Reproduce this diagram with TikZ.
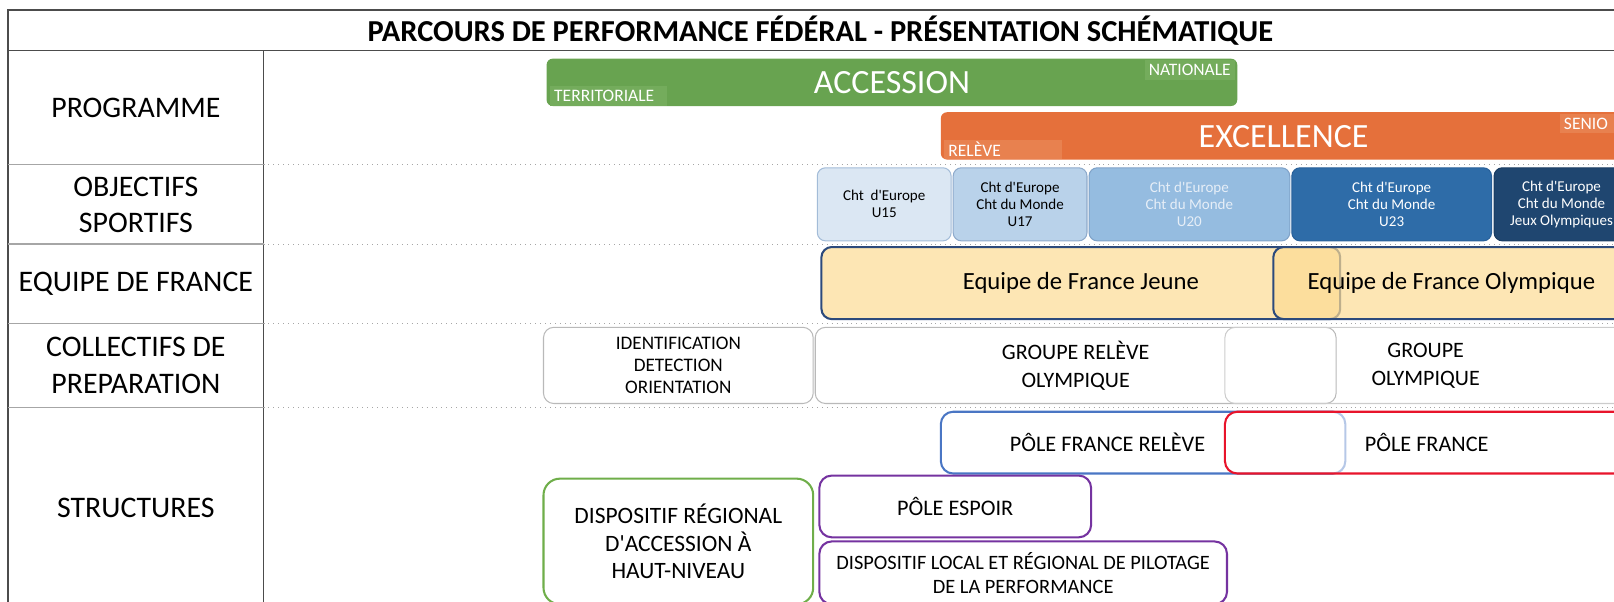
\documentclass[tikz,border=0pt]{standalone}
\usepackage{fontspec}
\setmainfont{Carlito}[Ligatures=TeXOff]
\usepackage{tikz}
\usepackage{xcolor}

\definecolor{vertAcc}{HTML}{68A350}
\definecolor{vertClair}{HTML}{74AC5C}
\definecolor{orangeExc}{HTML}{E5703B}
\definecolor{orangeClair}{HTML}{E8814F}
\definecolor{bleuA}{HTML}{DBE7F3}
\definecolor{bleuAb}{HTML}{A3BCD8}
\definecolor{bleuB}{HTML}{B9D2EA}
\definecolor{bleuBb}{HTML}{8EAACB}
\definecolor{bleuC}{HTML}{95BCE0}
\definecolor{bleuCb}{HTML}{7FA2C8}
\definecolor{bleuCt}{HTML}{E6EEF7}
\definecolor{bleuD}{HTML}{2E6CA8}
\definecolor{bleuDb}{HTML}{28609A}
\definecolor{bleuE}{HTML}{1F4670}
\definecolor{bleuEb}{HTML}{1A3C62}
\definecolor{jauneEF}{HTML}{FDE6B4}
\definecolor{jauneEFo}{HTML}{FCDB94}
\definecolor{bleuEF}{HTML}{2C4A7C}
\definecolor{bleuPF}{HTML}{4A76C4}
\definecolor{rougePF}{HTML}{E8142B}
\definecolor{violetPE}{HTML}{7533A0}
\definecolor{vertDRA}{HTML}{6FAE4A}

\begin{document}
\begin{tikzpicture}[x=0.5pt, y=-0.5pt,
  lab/.style={align=center, font=\fontsize{14.5}{17.5}\selectfont},
  barre/.style={rectangle, rounded corners=3pt, minimum height=23pt, inner sep=0pt, text=white, font=\fontsize{16.5}{20}\selectfont},
  sous/.style={inner xsep=2pt, inner ysep=0.5pt, text=white, font=\fontsize{8.5}{10}\selectfont, minimum height=9.5pt},
  obj/.style={rectangle, rounded corners=4pt, draw, line width=0.5pt, minimum height=35.5pt, inner sep=0pt, align=center, font=\fontsize{7.3}{8.25}\selectfont},
  ef/.style={rectangle, rounded corners=5pt, draw=bleuEF, line width=1pt, minimum height=35pt, inner sep=0pt, font=\fontsize{12}{14}\selectfont},
  coll/.style={rectangle, rounded corners=5pt, draw=gray!55, line width=0.5pt, minimum height=37pt, inner sep=0pt, align=center},
  struc/.style={rectangle, rounded corners=6pt, line width=1pt, minimum height=30pt, inner sep=0pt, align=center, font=\fontsize{10.8}{13.5}\selectfont}]
\useasboundingbox (0,0) rectangle (1568,584);
\clip (0,0) rectangle (1568,584);

% tableau
\draw[line width=0.8pt, draw=black!70] (8,10) rectangle (1640,640);
\draw[line width=0.8pt, draw=black!70] (8,49) -- (1640,49);
\draw[line width=0.8pt, draw=black!70] (256,49) -- (256,640);
\foreach \y in {160,237,314,396} {
  \draw[line width=0.6pt, gray!70] (8,\y) -- (256,\y);
  \draw[gray!70, dotted] (256,\y) -- (1640,\y);
}
\node[font=\bfseries\fontsize{14.8}{17}\selectfont] (TITRE) at (797,30) {PARCOURS DE PERFORMANCE FÉDÉRAL - PRÉSENTATION SCHÉMATIQUE};

% colonne de gauche
\node[lab] (LProg) at (132,105) {PROGRAMME};
\node[lab] (LObj) at (132,199) {OBJECTIFS\\SPORTIFS};
\node[lab] (LEdf) at (132,276) {EQUIPE DE FRANCE};
\node[lab] (LColl) at (132,355) {COLLECTIFS DE\\PREPARATION};
\node[lab] (LStruc) at (132,493) {STRUCTURES};

% programme
\node[barre, fill=vertAcc, minimum width=335.5pt] (ACC) at (866.5,80) {ACCESSION};
\node[sous, fill=vertClair, anchor=south west, text width=53pt] (TERR) at (534,103) {TERRITORIALE};
\node[sous, fill=vertClair, anchor=north east] (NAT) at (1200,58) {NATIONALE};
\node[barre, fill=orangeExc, minimum width=343pt] (EXC) at (1257,132) {};
\node[text=white, font=\fontsize{16.5}{20}\selectfont] (EXCt) at (1247,133) {EXCELLENCE};
\node[sous, fill=orangeClair, anchor=south west, text width=53pt] (REL) at (917,155) {RELÈVE};
\node[sous, fill=orangeClair, anchor=north west, text width=40pt] (SEN) at (1515,110) {SENIO};

% objectifs sportifs
\node[obj, fill=bleuA, draw=bleuAb, minimum width=65pt] (U15) at (859,198.5) {Cht~~d'Europe\\U15};
\node[obj, fill=bleuB, draw=bleuBb, minimum width=65pt] (U17) at (991,198.5) {Cht d'Europe\\Cht du Monde\\U17};
\node[obj, fill=bleuC, draw=bleuCb, text=bleuCt, minimum width=97.5pt] (U20) at (1155.5,198.5) {Cht d'Europe\\Cht du Monde\\U20};
\node[obj, fill=bleuD, draw=bleuDb, text=white, minimum width=97pt] (U23) at (1352,198.5) {Cht d'Europe\\Cht du Monde\\U23};
\node[obj, fill=bleuE, draw=bleuEb, text=white, minimum width=65.5pt] (JO) at (1517,198.5) {Cht d'Europe\\Cht du Monde\\Jeux Olympiques};

% equipe de france
\node[ef, fill=jauneEF, minimum width=252pt] (EFJ) at (1050,275) {Equipe de France Jeune};
\node[ef, fill=jauneEFo, fill opacity=0.7, text opacity=1, minimum width=173pt] (EFO) at (1410,275) {Equipe de France Olympique};

% collectifs
\node[coll, minimum width=131pt, font=\fontsize{9.3}{10.5}\selectfont] (IDO) at (659,355) {IDENTIFICATION\\DETECTION\\ORIENTATION};
\node[coll, minimum width=253pt, font=\fontsize{10.7}{13.5}\selectfont] (GRO) at (1045,355) {GROUPE RELÈVE\\OLYMPIQUE};
\node[coll, draw=gray!40, minimum width=195pt, font=\fontsize{10.7}{13.5}\selectfont] (GO) at (1385,355) {GROUPE\\OLYMPIQUE};

% structures
\node[struc, draw=bleuPF, minimum width=196.5pt] (PFR) at (1110.5,430) {};
\node[font=\fontsize{10.8}{13.5}\selectfont] (PFRt) at (1076,430) {PÔLE FRANCE RELÈVE};
\node[struc, draw=rougePF, fill=white, fill opacity=0.6, text opacity=1, minimum width=196pt] (PF) at (1386,430) {PÔLE FRANCE};
\node[struc, draw=violetPE, minimum width=132pt] (PE) at (928,492) {PÔLE ESPOIR};
\node[struc, draw=violetPE, minimum width=198pt, minimum height=30.5pt, font=\fontsize{9.9}{11.5}\selectfont] (DLR) at (994,556.5) {DISPOSITIF LOCAL ET RÉGIONAL DE PILOTAGE\\DE LA PERFORMANCE};
\node[struc, draw=vertDRA, rounded corners=8pt, minimum width=131pt, minimum height=61pt, font=\fontsize{11.4}{13.5}\selectfont] (DRA) at (659,526) {DISPOSITIF RÉGIONAL\\D'ACCESSION À\\HAUT-NIVEAU};
\end{tikzpicture}
\end{document}
